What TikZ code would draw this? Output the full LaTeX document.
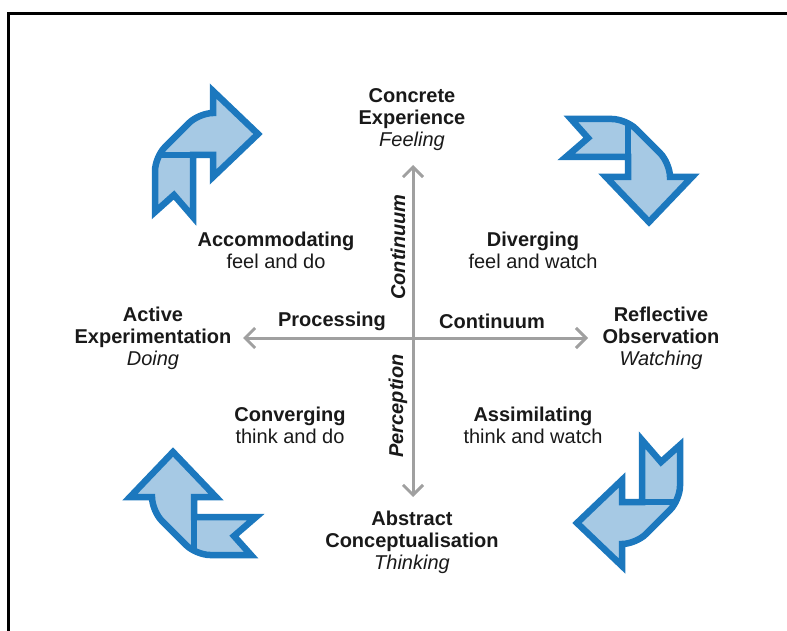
\documentclass[tikz,border=0pt]{standalone}
\usepackage{fontspec}
\setmainfont{Liberation Sans}
\usetikzlibrary{arrows.meta}
\definecolor{ribbonline}{RGB}{28,120,190}
\definecolor{ribbonfill}{RGB}{166,201,228}
\definecolor{axisgray}{RGB}{160,160,160}

\begin{document}
\begin{tikzpicture}[x=1pt,y=-1pt,
  txt/.style={align=center,font=\fontsize{20}{22}\selectfont,text=black!90},
  axis/.style={line width=3pt,draw=axisgray,>={Straight Barb[length=10pt,width=20pt]},<->},
  ribbon/.style={draw=ribbonline,fill=ribbonfill,line width=6.5pt,line join=miter}]
\useasboundingbox (0,0) rectangle (787,631);
\draw[line width=3pt] (8,631) -- (8,14) -- (787,14);

% the two axes
\coordinate (top) at (413,165);
\coordinate (bottom) at (413,497);
\coordinate (left) at (243,338);
\coordinate (right) at (588,338);
\draw[axis] (left) -- (right);
\draw[axis] (bottom) -- (top);

% ribbon arrows in the corners
\foreach \px/\py/\ang in {205/155/0, 628/169/-90, 630/502/180, 194/505/90}{
  \begin{scope}[shift={(\px,\py)},rotate=\ang]
    \draw[ribbon] (-12,0) -- (8,0) -- (8,22) -- (53,-21) -- (8,-64) -- (8,-42) [rounded corners=14pt] -- (-6,-42) -- (-50,2) -- (-50,30) [sharp corners] -- (-50,57) -- (-31,40) -- (-12,62) -- cycle;
    \draw[ribbonline,line width=6pt] (-44,0) -- (-12,0);
  \end{scope}
}

% stages
\node[txt] (ce) at (412,120) {\textbf{Concrete}\\\textbf{Experience}\\\textit{Feeling}};
\node[txt] (ro) at (661,338) {\textbf{Reflective}\\\textbf{Observation}\\\textit{Watching}};
\node[txt] (ac) at (412,542) {\textbf{Abstract}\\\textbf{Conceptualisation}\\\textit{Thinking}};
\node[txt] (ae) at (153,338) {\textbf{Active}\\\textbf{Experimentation}\\\textit{Doing}};

% styles
\node[txt] (acc) at (276,250) {\textbf{Accommodating}\\feel and do};
\node[txt] (div) at (533,250) {\textbf{Diverging}\\feel and watch};
\node[txt] (con) at (290,425) {\textbf{Converging}\\think and do};
\node[txt] (ass) at (533,425) {\textbf{Assimilating}\\think and watch};

% axis labels
\node[txt] (proc) at (332,321) {\textbf{Processing}};
\node[txt] (hcont) at (492,321) {\textbf{Continuum}};
\node[txt,rotate=90] (vcont) at (398,247) {\textbf{\textit{Continuum}}};
\node[txt,rotate=90] (perc) at (398,406) {\textbf{\textit{Perception}}};
\end{tikzpicture}
\end{document}
